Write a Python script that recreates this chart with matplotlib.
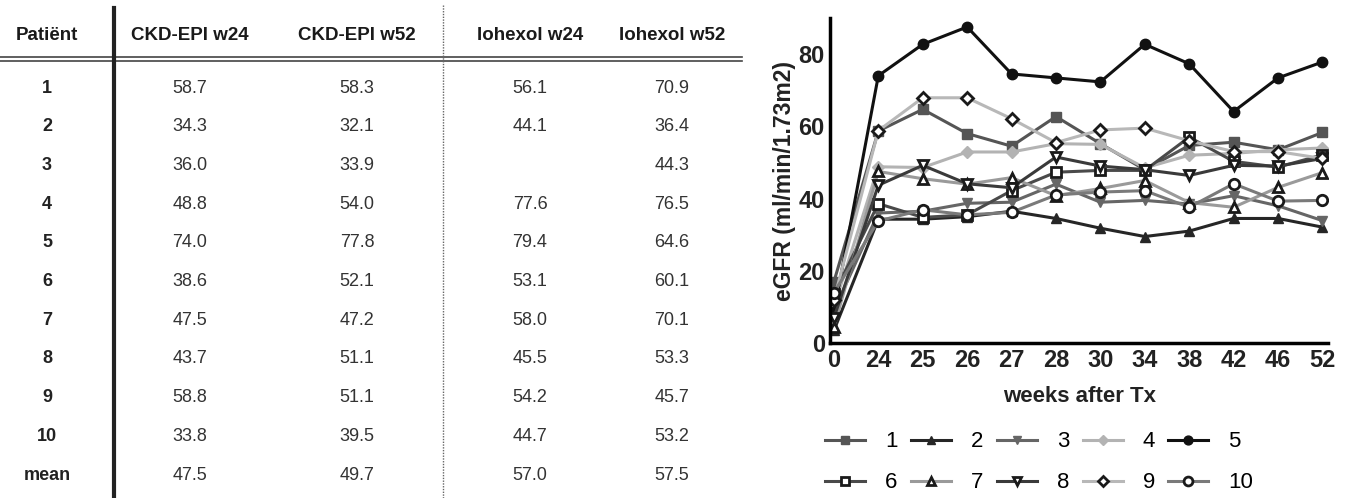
import matplotlib
matplotlib.use('Agg')
import matplotlib.pyplot as plt

plt.rcParams['font.family'] = ['Liberation Sans', 'DejaVu Sans']

# tabel
columns = ['Patiënt', 'CKD-EPI w24', 'CKD-EPI w52', 'Iohexol w24', 'Iohexol w52']
patients = ['1', '2', '3', '4', '5', '6', '7', '8', '9', '10', 'mean']
ckd_w24 = ['58.7', '34.3', '36.0', '48.8', '74.0', '38.6', '47.5', '43.7', '58.8', '33.8', '47.5']
ckd_w52 = ['58.3', '32.1', '33.9', '54.0', '77.8', '52.1', '47.2', '51.1', '51.1', '39.5', '49.7']
ioh_w24 = ['56.1', '44.1', '', '77.6', '79.4', '53.1', '58.0', '45.5', '54.2', '44.7', '57.0']
ioh_w52 = ['70.9', '36.4', '44.3', '76.5', '64.6', '60.1', '70.1', '53.3', '45.7', '53.2', '57.5']

# grafiek
weeks = ['0', '24', '25', '26', '27', '28', '30', '34', '38', '42', '46', '52']
p1 = [17, 58.7, 64.7, 58.0, 54.5, 62.7, 55.2, 48.0, 54.7, 55.6, 53.5, 58.3]
p2 = [3.5, 34.3, 34.3, 35.0, 36.5, 34.5, 31.8, 29.5, 31.0, 34.5, 34.5, 32.1]
p3 = [9, 36.0, 36.5, 38.7, 39.0, 44.0, 39.0, 39.5, 38.5, 40.8, 38.0, 33.9]
p4 = [10, 48.8, 48.6, 52.9, 52.9, 55.2, 55.0, 48.5, 52.0, 52.5, 53.5, 54.0]
p5 = [8.5, 74.0, 82.7, 87.5, 74.5, 73.4, 72.3, 82.7, 77.3, 64.1, 73.4, 77.8]
p6 = [13.5, 38.6, 34.8, 35.5, 42.2, 47.3, 47.8, 47.8, 57.0, 50.3, 48.7, 52.1]
p7 = [4.5, 47.5, 45.5, 44.0, 45.8, 40.8, 42.8, 45.0, 38.9, 37.6, 43.1, 47.2]
p8 = [7, 43.7, 49.2, 44.1, 43.0, 51.5, 49.0, 48.0, 46.4, 49.2, 49.0, 51.1]
p9 = [12, 58.8, 67.9, 67.9, 62.1, 55.5, 59.0, 59.5, 56.0, 53.0, 53.0, 51.1]
p10 = [14, 33.8, 36.9, 35.5, 36.2, 41.0, 41.8, 42.2, 37.6, 44.1, 39.3, 39.5]

series = [p1, p2, p3, p4, p5, p6, p7, p8, p9, p10]
markers = ['s', '^', 'v', 'D', 'o', 's', '^', 'v', 'D', 'o']
filled = [True, True, True, True, True, False, False, False, False, False]
colors = ['#555555', '#262626', '#666666', '#b3b3b3', '#111111',
          '#4a4a4a', '#9a9a9a', '#3a3a3a', '#b8b8b8', '#7a7a7a']

fig = plt.figure(figsize=(13.48, 4.98), dpi=100)

# --- tabel tekenen ---
tab = fig.add_axes([0, 0, 1, 1])
tab.set_xlim(0, 1348)
tab.set_ylim(498, 0)
tab.axis('off')

col_x = [47, 190, 357, 530, 672]
header_y = 35
row_y0 = 88
row_step = 38.7

for cx, name in zip(col_x, columns):
    tab.text(cx, header_y, name, ha='center', va='center', fontsize=13.5,
             fontweight='bold', color='#1a1a1a')

tab.plot([0, 742], [57, 57], color='#444444', lw=1.2)
tab.plot([0, 742], [61, 61], color='#444444', lw=1.2)
tab.plot([114, 114], [8, 498], color='#222222', lw=3)
tab.plot([443, 443], [5, 498], color='#666666', lw=1, linestyle=(0, (1, 1)))

cols_data = [ckd_w24, ckd_w52, ioh_w24, ioh_w52]
for i, p in enumerate(patients):
    y = row_y0 + i * row_step
    tab.text(col_x[0], y, p, ha='center', va='center', fontsize=13,
             fontweight='bold', color='#222222')
    for cx, vals in zip(col_x[1:], cols_data):
        tab.text(cx, y, vals[i], ha='center', va='center', fontsize=13,
                 color='#333333')

# --- grafiek tekenen ---
ax = fig.add_axes([0.616, 0.311, 0.369, 0.653])
xs = list(range(len(weeks)))
lines = []
for i, s in enumerate(series):
    mfc = colors[i] if filled[i] else 'white'
    mec = colors[i] if filled[i] else '#1a1a1a'
    if i == 4:
        mfc = mec = '#111111'
    ln, = ax.plot(xs, s, color=colors[i], lw=2.2, marker=markers[i],
                  markersize=6 if markers[i] == 'D' else 7.5,
                  markerfacecolor=mfc, markeredgecolor=mec,
                  markeredgewidth=2 if not filled[i] else 1, label=str(i + 1))
    lines.append(ln)

ax.set_xlim(-0.08, 11.12)
ax.set_ylim(0, 90)
ax.set_xticks(xs)
ax.set_xticklabels(weeks)
ax.set_yticks([0, 20, 40, 60, 80])
ax.tick_params(length=0, labelsize=17, pad=4)
for lab in ax.get_xticklabels() + ax.get_yticklabels():
    lab.set_fontweight('bold')
    lab.set_color('#222222')
ax.spines['top'].set_visible(False)
ax.spines['right'].set_visible(False)
ax.spines['left'].set_linewidth(2.5)
ax.spines['bottom'].set_linewidth(2.5)
ax.set_ylabel('eGFR (ml/min/1.73m2)', fontsize=16.5, fontweight='bold',
              color='#222222', labelpad=2)
ax.set_xlabel('weeks after Tx', fontsize=16, fontweight='bold',
              color='#222222', labelpad=10)

# legende rij voor rij: 1-5 boven, 6-10 onder
order = [0, 5, 1, 6, 2, 7, 3, 8, 4, 9]
ax.legend([lines[k] for k in order], [str(k + 1) for k in order],
          loc='upper center', bbox_to_anchor=(0.42, -0.21), ncol=5,
          frameon=False, fontsize=16, handlelength=1.8, handletextpad=0.9,
          columnspacing=0.6, labelspacing=0.9, markerscale=0.85)

fig.savefig('out.png', dpi=100)
